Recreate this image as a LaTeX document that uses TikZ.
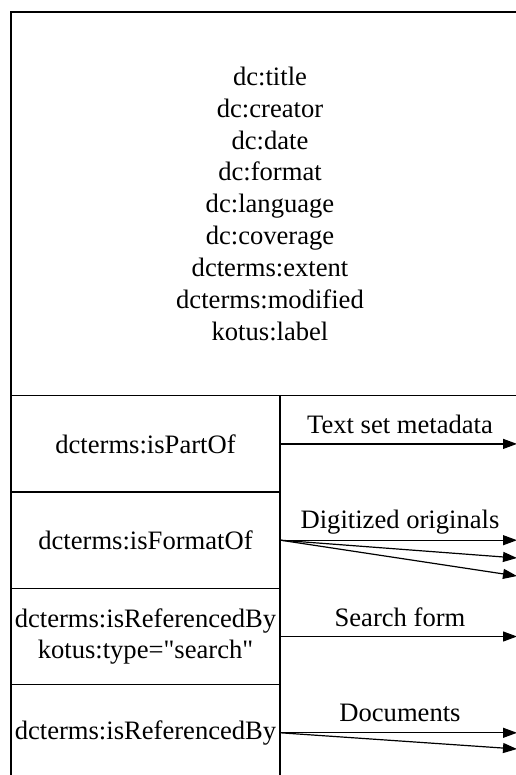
\documentclass[tikz,border=0pt]{standalone}
\usepackage{fontspec}
\setmainfont{Liberation Serif}[Ligatures=TeXOff]
\usetikzlibrary{arrows.meta}
\tikzset{
  box/.style={draw, line width=1.2bp, inner sep=0pt, align=center,
    font=\fontsize{26.6bp}{31.9bp}\selectfont},
  rowbox/.style={box, minimum width=269bp, minimum height=96.3bp},
  lab/.style={inner sep=0pt, anchor=base, font=\fontsize{26.6bp}{31.9bp}\selectfont},
  link/.style={line width=1.2bp, -{Triangle[length=14bp,width=10bp]}}
}
\begin{document}
\begin{tikzpicture}[x=1bp,y=-1bp]
\useasboundingbox (0,0) rectangle (516,775);
\clip (0,0) rectangle (516,775);
\fill[white] (0,0) rectangle (516,775);

\node[box, minimum width=518bp, minimum height=383.7bp] (top) at (270,203.8)
  {dc:title\\dc:creator\\dc:date\\dc:format\\dc:language\\dc:coverage\\dcterms:extent\\dcterms:modified\\kotus:label};

\node[rowbox] (r1) at (145.5,443.9) {dcterms:isPartOf};
\node[rowbox] (r2) at (145.5,540.2) {dcterms:isFormatOf};
\node[rowbox] (r3) at (145.5,636.5) {dcterms:isReferencedBy\\kotus:type="search"};
\node[rowbox] (r4) at (145.5,732.8) {dcterms:isReferencedBy};

\coordinate (e1) at (517,443.9);
\coordinate (e2a) at (517,540.2);
\coordinate (e2b) at (517,558);
\coordinate (e2c) at (517,576);
\coordinate (e3) at (517,636.5);
\coordinate (e4a) at (517,732.8);
\coordinate (e4b) at (517,749);

\draw[link] (r1.east) -- (e1);
\draw[link] (r2.east) -- (e2a);
\draw[link] (r2.east) -- (e2b);
\draw[link] (r2.east) -- (e2c);
\draw[link] (r3.east) -- (e3);
\draw[link] (r4.east) -- (e4a);
\draw[link] (r4.east) -- (e4b);

\node[lab] (l1) at (400,433) {Text set metadata};
\node[lab] (l2) at (400,528) {Digitized originals};
\node[lab] (l3) at (400,626) {Search form};
\node[lab] (l4) at (400,721) {Documents};
\end{tikzpicture}
\end{document}
